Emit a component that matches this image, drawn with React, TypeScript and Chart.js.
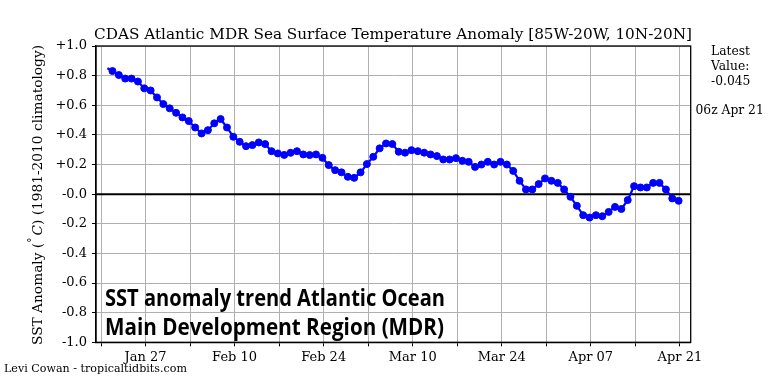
import React, { useEffect, useRef } from "react";
import { Chart, registerables } from "chart.js";

Chart.register(...registerables);

// ---- data (x = days since Jan 20, 2021) ----
const lineStartDay = 1.0;
const lineStartValue = 0.85;
const firstMarkerDay = 1.8;
const anomalies = [
  0.831, 0.804, 0.78, 0.78, 0.76, 0.714, 0.7, 0.653, 0.608, 0.579,
  0.549, 0.518, 0.493, 0.45, 0.41, 0.432, 0.478, 0.507, 0.45, 0.387,
  0.353, 0.324, 0.331, 0.349, 0.338, 0.29, 0.275, 0.265, 0.279,
  0.29, 0.268, 0.264, 0.268, 0.245, 0.196, 0.162, 0.147, 0.117, 0.11,
  0.147, 0.203, 0.252, 0.309, 0.342, 0.338, 0.286, 0.28, 0.297, 0.29,
  0.28, 0.268, 0.257, 0.234, 0.234, 0.243, 0.225, 0.218, 0.184, 0.2,
  0.218,
  0.2, 0.218, 0.2, 0.157, 0.09, 0.032, 0.032, 0.068, 0.106, 0.09,
  0.076, 0.032, -0.018, -0.079, -0.142, -0.158, -0.142, -0.149, -0.12, -0.086,
  -0.1, -0.04, 0.054, 0.045, 0.045, 0.076, 0.076, 0.032, -0.029, -0.045,
];
const xTickDays = [0, 7, 14, 21, 28, 35, 42, 49, 56, 63, 70, 77, 84, 91];
const xTickLabels = ["", "Jan 27", "", "Feb 10", "", "Feb 24", "", "Mar 10", "", "Mar 24", "", "Apr 07", "", "Apr 21"];
const yTickValues = [-1.0, -0.8, -0.6, -0.4, -0.2, 0.0, 0.2, 0.4, 0.6, 0.8, 1.0];
const yTickLabels = ["-1.0", "-0.8", "-0.6", "-0.4", "-0.2", "-0.0", "+0.2", "+0.4", "+0.6", "+0.8", "+1.0"];

const titleText = "CDAS Atlantic MDR Sea Surface Temperature Anomaly [85W-20W, 10N-20N]";
const yLabelParts = ["SST Anomaly (", "\u00B0", "C", ") (1981-2010 climatology)"];
const latestLines = ["Latest", "Value:", "-0.045"];
const latestTime = "06z Apr 21";
const overlayLines = ["SST anomaly trend Atlantic Ocean", "Main Development Region (MDR)"];
const creditText = "Levi Cowan - tropicaltidbits.com";

const SERIF = "'DejaVu Serif', serif";

const decorPlugin = {
  id: "decor",
  beforeDatasetsDraw(chart: any) {
    const { ctx, chartArea, scales } = chart;
    const y0 = scales.y.getPixelForValue(0);
    ctx.save();
    ctx.strokeStyle = "#000";
    ctx.lineWidth = 2;
    ctx.beginPath();
    ctx.moveTo(chartArea.left, y0);
    ctx.lineTo(chartArea.right, y0);
    ctx.stroke();
    ctx.restore();
  },
  afterDatasetsDraw(chart: any) {
    const { ctx, chartArea } = chart;
    ctx.save();
    // frame
    ctx.strokeStyle = "#000";
    ctx.lineWidth = 1.3;
    ctx.strokeRect(chartArea.left, chartArea.top, chartArea.right - chartArea.left, chartArea.bottom - chartArea.top);
    // overlay text
    ctx.fillStyle = "#000";
    ctx.textBaseline = "alphabetic";
    ctx.textAlign = "left";
    ctx.font = "bold 22.5px 'Open Sans', sans-serif";
    const baselines = [306, 335];
    const targetW = [340, 339];
    overlayLines.forEach((t, i) => {
      const w = ctx.measureText(t).width;
      ctx.save();
      ctx.translate(105, baselines[i]);
      ctx.scale(targetW[i] / w, 1);
      ctx.fillText(t, 0, 0);
      ctx.restore();
    });
    ctx.restore();
  },
  afterDraw(chart: any) {
    const { ctx } = chart;
    ctx.save();
    ctx.fillStyle = "#000";
    // title
    ctx.font = `15px ${SERIF}`;
    let w = ctx.measureText(titleText).width;
    const tSize = (15 * 598) / w;
    ctx.font = `${tSize}px ${SERIF}`;
    ctx.textAlign = "left";
    ctx.textBaseline = "alphabetic";
    ctx.fillText(titleText, 94, 38.5);

    // y label (rotated)
    const fs = 13.5;
    const parts = yLabelParts;
    const fonts = [
      `${fs}px ${SERIF}`,
      `${fs * 0.75}px ${SERIF}`,
      `italic ${fs}px ${SERIF}`,
      `${fs}px ${SERIF}`,
    ];
    const widths = parts.map((p, i) => {
      ctx.font = fonts[i];
      return ctx.measureText(p).width;
    });
    const gap = fs * 0.15;
    const total = widths.reduce((a, b) => a + b, 0) + gap;
    const scaleL = 300 / total;
    ctx.save();
    ctx.translate(41.5, 345);
    ctx.rotate(-Math.PI / 2);
    ctx.scale(scaleL, 1);
    let px = 0;
    parts.forEach((p, i) => {
      ctx.font = fonts[i];
      const dy = i === 1 ? -fs * 0.42 : 0;
      ctx.fillText(p, px, dy);
      px += widths[i] + (i === 1 ? gap : 0);
    });
    ctx.restore();

    // latest value text
    ctx.font = `12.3px ${SERIF}`;
    ctx.textBaseline = "middle";
    ctx.textAlign = "left";
    latestLines.forEach((t, i) => ctx.fillText(t, 711, 52 + i * 15));
    ctx.fillText(latestTime, 695.5, 111);

    // credit
    ctx.font = `11px ${SERIF}`;
    w = ctx.measureText(creditText).width;
    ctx.save();
    ctx.translate(4, 369);
    ctx.scale(183 / w, 1);
    ctx.fillText(creditText, 0, 0);
    ctx.restore();
    ctx.restore();
  },
};

export default function App() {
  const canvasRef = useRef<HTMLCanvasElement | null>(null);

  useEffect(() => {
    const canvas = canvasRef.current;
    if (!canvas) return;
    const points = [
      { x: lineStartDay, y: lineStartValue },
      ...anomalies.map((v, i) => ({ x: firstMarkerDay + i, y: v })),
    ];
    const chart = new Chart(canvas, {
      type: "line",
      data: {
        datasets: [
          {
            data: points,
            borderColor: "#0000ff",
            backgroundColor: "#0000ff",
            borderWidth: 2.2,
            pointRadius: (c: any) => (c.dataIndex === 0 ? 0 : 3.5),
            pointBorderWidth: 1,
            pointBackgroundColor: "#0000ff",
            pointBorderColor: "#0000ff",
            tension: 0,
            fill: false,
          },
        ],
      },
      options: {
        animation: false,
        responsive: false,
        maintainAspectRatio: false,
        events: [],
        layout: { padding: { left: 0, right: 77.3, top: 46, bottom: 0 } },
        plugins: {
          legend: { display: false },
          tooltip: { enabled: false },
          title: { display: false },
        },
        scales: {
          x: {
            type: "linear",
            min: -0.79,
            max: 92.7,
            afterBuildTicks: (s: any) => {
              s.ticks = xTickDays.map((v) => ({ value: v }));
            },
            afterFit: (s: any) => {
              s.height = 384 - 342.3;
            },
            ticks: {
              autoSkip: false,
              maxRotation: 0,
              minRotation: 0,
              color: "#000",
              padding: 4,
              font: { family: "DejaVu Serif", size: 13 },
              callback: (_v: any, i: number) => xTickLabels[i] ?? "",
            },
            grid: {
              color: "#b0b0b0",
              lineWidth: 1,
              tickColor: "#000",
              tickLength: 4,
              drawTicks: true,
            },
            border: { color: "#000", width: 1.3 },
          },
          y: {
            type: "linear",
            min: -1,
            max: 1,
            afterBuildTicks: (s: any) => {
              s.ticks = yTickValues.map((v) => ({ value: v }));
            },
            afterFit: (s: any) => {
              s.width = 96;
            },
            ticks: {
              color: "#000",
              padding: 5,
              font: { family: "DejaVu Serif", size: 13 },
              callback: (_v: any, i: number) => yTickLabels[i] ?? "",
            },
            grid: {
              color: "#b0b0b0",
              lineWidth: 1,
              tickColor: "#000",
              tickLength: 4,
              drawTicks: true,
            },
            border: { color: "#000", width: 1.3 },
          },
        },
      },
      plugins: [decorPlugin],
    } as any);
    return () => chart.destroy();
  }, []);

  return (
    <div style={{ position: "fixed", left: 0, top: 0, width: 768, height: 384, background: "#fff" }}>
      <canvas ref={canvasRef} width={768} height={384} style={{ display: "block" }} />
    </div>
  );
}
